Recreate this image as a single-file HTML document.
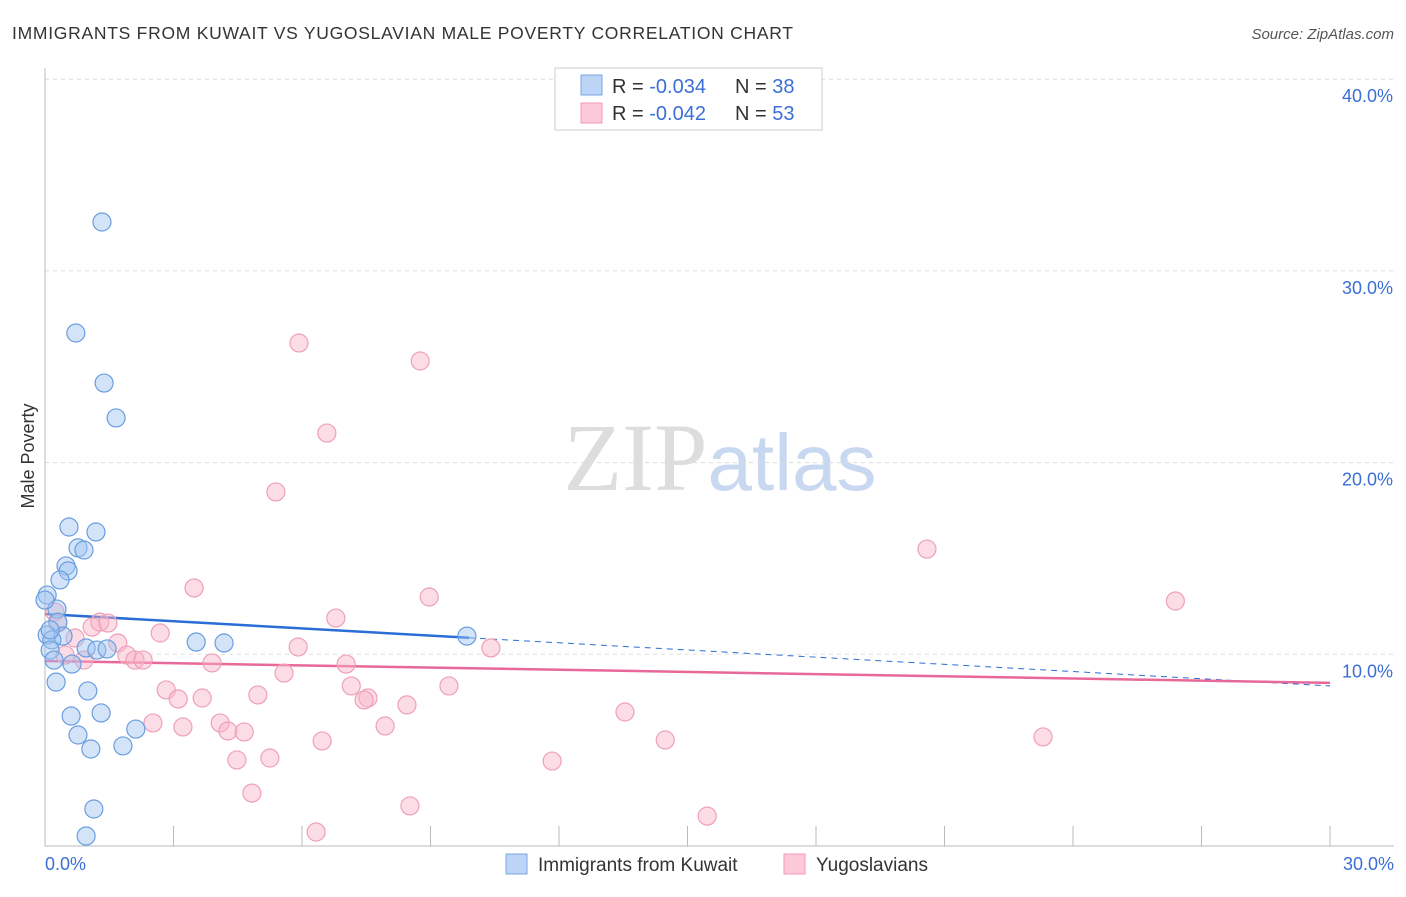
<!DOCTYPE html>
<html><head><meta charset="utf-8">
<style>
html,body{margin:0;padding:0;background:#fff;}
body{width:1406px;height:892px;overflow:hidden;font-family:"Liberation Sans",sans-serif;}
</style></head>
<body>
<svg id="chart" width="1406" height="892" xmlns="http://www.w3.org/2000/svg" font-family="Liberation Sans, sans-serif">
<text x="12" y="39" font-size="17.5" fill="#333" textLength="781" lengthAdjust="spacing">IMMIGRANTS FROM KUWAIT VS YUGOSLAVIAN MALE POVERTY CORRELATION CHART</text>
<text x="1394" y="39" font-size="15" fill="#555" text-anchor="end" font-style="italic">Source: ZipAtlas.com</text>
<text x="720" y="490" font-size="96" text-anchor="middle"><tspan fill="#ddd" font-family="Liberation Serif, serif">ZIP</tspan><tspan fill="#c8d8f0" font-size="80">atlas</tspan></text>
<text transform="translate(34,456) rotate(-90)" font-size="18" fill="#333" text-anchor="middle">Male Poverty</text>
<g id="grid"></g>
<g id="axes"></g>
<g id="lines"></g>
<g id="points"></g>
<g>
<rect x="555" y="68" width="267" height="62" fill="#fff" stroke="#ccc"/>
<rect x="581" y="75" width="21" height="20" fill="#bcd4f5" stroke="#7aa6e6"/>
<text x="612" y="93" font-size="20" fill="#333">R = <tspan fill="#3b6fd6">-0.034</tspan></text>
<text x="735" y="93" font-size="20" fill="#333">N = <tspan fill="#3b6fd6">38</tspan></text>
<rect x="581" y="103" width="21" height="20" fill="#fbc9d8" stroke="#f09ab5"/>
<text x="612" y="120" font-size="20" fill="#333">R = <tspan fill="#3b6fd6">-0.042</tspan></text>
<text x="735" y="120" font-size="20" fill="#333">N = <tspan fill="#3b6fd6">53</tspan></text>
</g>
<g>
<rect x="506" y="854" width="21" height="20" fill="#bcd4f5" stroke="#7aa6e6"/>
<text x="538" y="871" font-size="19" fill="#333">Immigrants from Kuwait</text>
<rect x="784" y="854" width="21" height="20" fill="#fbc9d8" stroke="#f09ab5"/>
<text x="816" y="871" font-size="19" fill="#333">Yugoslavians</text>
</g>
</svg>
<script>
const yTicks=[10,20,30,40];
const yTickLabels=["10.0%","20.0%","30.0%","40.0%"];
const xTickLabels=["0.0%","30.0%"];
const blueX=[1.33,0.72,1.38,1.66,0.56,1.19,0.77,0.91,0.49,0.54,0.35,0.05,0.28,0.30,0.05,0.42,0.16,0.12,0.96,1.21,1.45,3.53,4.18,9.85,0.21,0.63,0.26,1.00,0.61,1.31,0.77,1.07,1.82,2.12,1.14,0.96,0,0.12];
const blueY=[32.55,26.76,24.15,22.33,16.64,16.38,15.55,15.44,14.61,14.35,13.88,13.09,12.36,11.68,11.01,10.95,10.75,10.22,10.33,10.22,10.28,10.64,10.59,10.95,9.70,9.49,8.55,8.09,6.78,6.94,5.79,5.06,5.22,6.10,1.93,0.52,12.83,11.27];
const pinkX=[5.93,8.76,6.58,5.39,20.59,3.48,8.97,26.39,6.79,0.23,0.30,1.10,1.28,1.47,2.69,0.70,1.70,5.91,10.41,0.47,0.91,1.91,2.10,2.29,3.90,7.03,5.58,2.83,7.15,9.43,3.11,3.67,4.97,7.54,7.45,8.45,13.54,2.52,3.22,4.09,4.27,4.65,7.94,6.47,14.48,23.30,4.48,5.25,11.84,4.83,8.52,15.46,6.33];
const pinkY=[26.24,25.30,21.54,18.47,15.49,13.46,12.99,12.78,11.89,12.21,11.63,11.42,11.68,11.63,11.11,10.85,10.59,10.38,10.33,9.96,9.70,9.96,9.70,9.70,9.55,9.49,9.02,8.14,8.35,8.35,7.67,7.72,7.88,7.72,7.62,7.36,6.99,6.42,6.21,6.42,6.00,5.95,6.26,5.48,5.53,5.69,4.49,4.59,4.43,2.76,2.09,1.56,0.73];
const blueTrend=[12.1,-0.125,9.9];
const pinkTrend=[9.65,-0.038];
const X0=45,X1=1330,Y0=846,PXY=19.17;
const sx=v=>X0+(X1-X0)*v/30, sy=v=>Y0-v*PXY;
const NS="http://www.w3.org/2000/svg";
function mk(tag,attrs,parent){const e=document.createElementNS(NS,tag);for(const k in attrs)e.setAttribute(k,attrs[k]);document.getElementById(parent).appendChild(e);return e;}
yTicks.forEach((t,i)=>{
 const g=mk('line',{x1:X0,x2:1394,y1:sy(t),y2:sy(t),stroke:'#ddd','stroke-dasharray':'4,4'},'grid');
 
 
 const l=mk('text',{x:1393,y:sy(t)+23,'font-size':18,fill:'#3b6fd6','text-anchor':'end'},'grid');
 l.textContent=yTickLabels[i];
 
 
});
const ax=mk('line',{x1:X0,x2:X0,y1:68,y2:Y0,stroke:'#bbb'},'axes');


const bx=mk('line',{x1:X0,x2:1394,y1:Y0,y2:Y0,stroke:'#bbb'},'axes');


for(let v=3;v<=30;v+=3){const t=mk('line',{x1:sx(v),x2:sx(v),y1:Y0,y2:Y0-20,stroke:'#bbb'},'axes');
 
 }
[[0,'start',45],[30,'end',1394]].forEach((d,i)=>{const t=mk('text',{x:d[2],y:870,'font-size':18,fill:'#3b6fd6','text-anchor':d[1]},'axes');t.textContent=xTickLabels[i];
 
 });
const bl=mk('line',{x1:sx(0),y1:sy(blueTrend[0]),x2:sx(blueTrend[2]),y2:sy(blueTrend[0]+blueTrend[1]*blueTrend[2]),stroke:'#2a6dd6','stroke-width':2.5},'lines');


const bd=mk('line',{x1:sx(blueTrend[2]),y1:sy(blueTrend[0]+blueTrend[1]*blueTrend[2]),x2:sx(30),y2:sy(blueTrend[0]+blueTrend[1]*30),stroke:'#2a6dd6','stroke-width':1,'stroke-dasharray':'6,5'},'lines');


const pl=mk('line',{x1:sx(0),y1:sy(pinkTrend[0]),x2:sx(30),y2:sy(pinkTrend[0]+pinkTrend[1]*30),stroke:'#e8689a','stroke-width':2.5},'lines');


pinkX.forEach((x,i)=>{const c=mk('circle',{cx:sx(x),cy:sy(pinkY[i]),r:9,fill:'rgba(248,180,200,0.45)',stroke:'#eea0b8','stroke-width':1.2},'points');
 
 });
blueX.forEach((x,i)=>{const c=mk('circle',{cx:sx(x),cy:sy(blueY[i]),r:9,fill:'rgba(160,195,240,0.45)',stroke:'#6a9de0','stroke-width':1.2},'points');
 
 });
</script>
</body></html>
